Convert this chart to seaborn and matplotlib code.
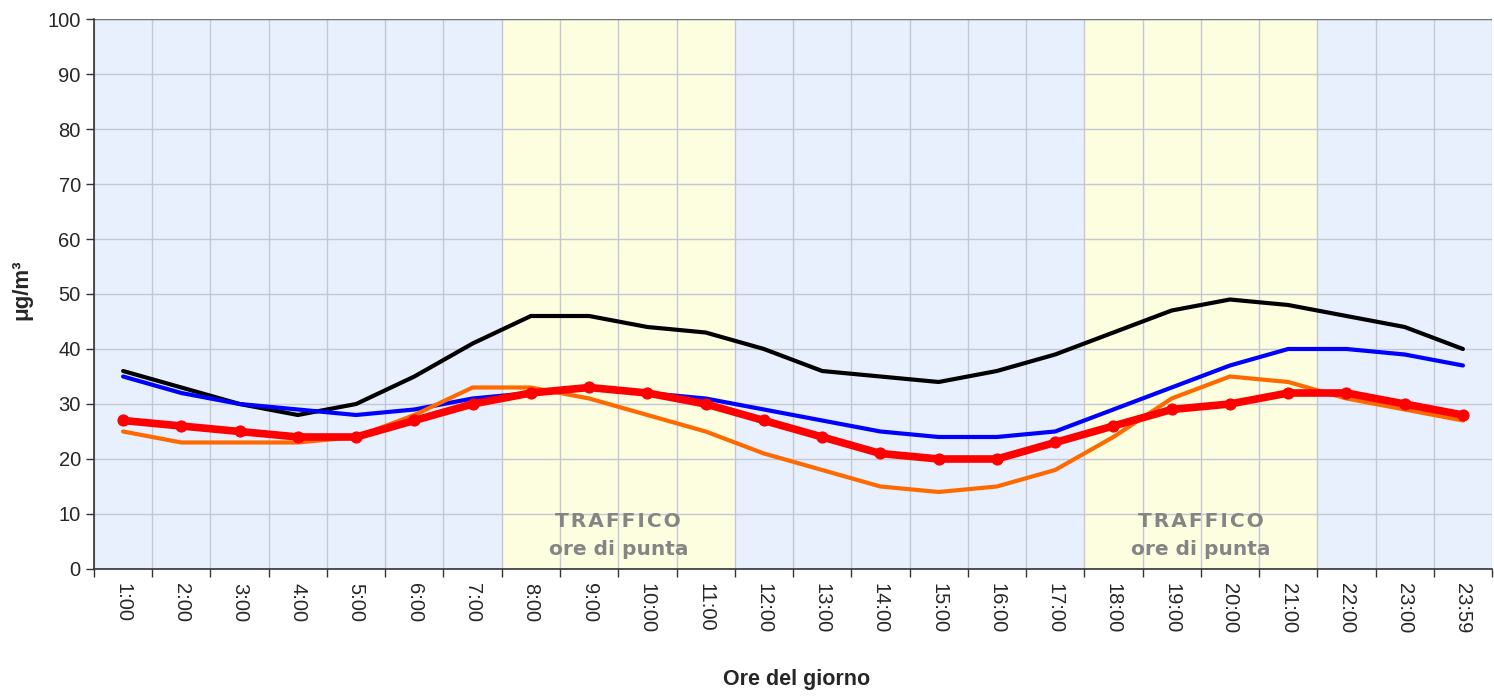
import numpy as np
import pandas as pd
import matplotlib
matplotlib.use('Agg')
import matplotlib.pyplot as plt
from matplotlib.ticker import FixedLocator, NullFormatter
import seaborn as sns

ore = ['1:00', '2:00', '3:00', '4:00', '5:00', '6:00', '7:00', '8:00', '9:00', '10:00',
       '11:00', '12:00', '13:00', '14:00', '15:00', '16:00', '17:00', '18:00', '19:00',
       '20:00', '21:00', '22:00', '23:00', '23:59']
serie_nera = [36, 33, 30, 28, 30, 35, 41, 46, 46, 44, 43, 40, 36, 35, 34, 36, 39, 43, 47, 49, 48, 46, 44, 40]
serie_blu = [35, 32, 30, 29, 28, 29, 31, 32, 33, 32, 31, 29, 27, 25, 24, 24, 25, 29, 33, 37, 40, 40, 39, 37]
serie_arancio = [25, 23, 23, 23, 24, 28, 33, 33, 31, 28, 25, 21, 18, 15, 14, 15, 18, 24, 31, 35, 34, 31, 29, 27]
serie_rossa = [27, 26, 25, 24, 24, 27, 30, 32, 33, 32, 30, 27, 24, 21, 20, 20, 23, 26, 29, 30, 32, 32, 30, 28]
fasce_traffico = [('8:00', '11:00'), ('18:00', '21:00')]

sns.set_style('white')
plt.rcParams['font.family'] = ['Liberation Sans', 'DejaVu Sans']

df = pd.DataFrame({'ora': ore, 'nera': serie_nera, 'blu': serie_blu,
                   'arancio': serie_arancio, 'rossa': serie_rossa})

fig = plt.figure(figsize=(14.94, 6.99), dpi=100)
ax = fig.add_axes([0.0629, 0.186, 0.9358, 0.7868])
ax.set_facecolor('#e8f0fd')

for inizio, fine in fasce_traffico:
    ax.axvspan(ore.index(inizio) - 0.5, ore.index(fine) + 0.5, color='#fdfde0', zorder=0)
    xm = (ore.index(inizio) + ore.index(fine)) / 2
    ax.text(xm, 8.6, '\u200a'.join('TRAFFICO'), ha='center', va='center', fontsize=14.5,
            fontweight='bold', color='#858585', family='DejaVu Sans')
    ax.text(xm, 3.6, 'ore di punta', ha='center', va='center', fontsize=14.5,
            fontweight='bold', color='#858585', family='DejaVu Sans')

sns.lineplot(data=df, x='ora', y='nera', color='black', lw=3, ax=ax, sort=False)
sns.lineplot(data=df, x='ora', y='blu', color='#0000ff', lw=3, ax=ax, sort=False)
sns.lineplot(data=df, x='ora', y='arancio', color='#ff6a00', lw=3, ax=ax, sort=False)
sns.lineplot(data=df, x='ora', y='rossa', color='#ff0000', lw=5.5, marker='o', markersize=8,
             markeredgecolor='#ff0000', ax=ax, sort=False)

n = len(ore)
ax.set_xlim(-0.5, n - 0.5)
ax.set_ylim(0, 100)
ax.xaxis.set_major_locator(FixedLocator(np.arange(n + 1) - 0.5))
ax.xaxis.set_major_formatter(NullFormatter())
ax.set_xticks(np.arange(n), ore, minor=True)
ax.tick_params(axis='x', which='minor', length=0, labelsize=14.5, rotation=-90, pad=10)
ax.tick_params(axis='x', which='major', length=6, width=1, color='#333333', direction='out', bottom=True)
ax.set_yticks(np.arange(0, 101, 10))
ax.tick_params(axis='y', length=6, width=1, color='#333333', labelsize=14.5, left=True)
ax.grid(True, which='major', color='#c4c8d4', lw=1)
ax.set_axisbelow(True)

for lato in ['top', 'right']:
    ax.spines[lato].set_visible(False)
for lato in ['left', 'bottom']:
    ax.spines[lato].set_color('#333333')
    ax.spines[lato].set_linewidth(1.2)
ax.axhline(100, color='#777777', lw=1)

ax.set_xlabel('')
ax.set_ylabel('')
fig.text(797 / 1494, 1 - 680 / 699, 'Ore del giorno', ha='center', va='center',
         fontsize=15.5, fontweight='bold')
fig.text(22 / 1494, 1 - 290 / 699, 'μg/m³', ha='center', va='center', rotation=90,
         fontsize=16, fontweight='bold')

fig.savefig('out.png', dpi=100)
